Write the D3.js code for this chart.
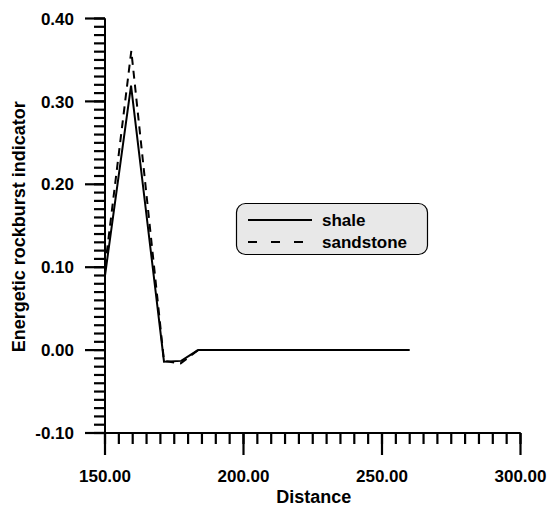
<!DOCTYPE html>
<html><head><meta charset="utf-8">
<script src="https://cdn.jsdelivr.net/npm/d3@7"></script>
<style>body{margin:0;background:#fff}svg{display:block}text{font-family:"Liberation Sans",Arial,sans-serif;font-weight:bold;fill:#000}</style>
</head><body>
<script>
const shaleX = [150, 159.4, 171.3, 177.5, 183.6, 260];
const shaleY = [0.09, 0.319, -0.014, -0.013, 0.0, 0.0];
const sandX = [150, 159.5, 171.3, 177.3, 183.6, 260];
const sandY = [0.10, 0.361, -0.013, -0.016, 0.0, 0.0];
const seriesNames = ["shale", "sandstone"];
const xTicks = [150, 200, 250, 300];
const yTicks = [-0.1, 0.0, 0.1, 0.2, 0.3, 0.4];
const xTitle = "Distance";
const yTitle = "Energetic rockburst indicator";

const W = 551, H = 509;
const svg = d3.select("body").append("svg").attr("width", W).attr("height", H);
const x = d3.scaleLinear().domain([150, 300]).range([105, 520.5]);
const y = d3.scaleLinear().domain([-0.1, 0.4]).range([433, 18.5]);
const fmt = d => d3.format(".2f")(d).replace("\u2212", "-");

const xMinor = d3.range(150, 300.001, 5);
const yMinor = d3.range(-0.1, 0.4001, 0.01);

const gx = svg.append("g").attr("transform", `translate(0,${y(-0.1)})`);
gx.call(d3.axisBottom(x).offset(0).tickValues(xMinor).tickSize(11).tickFormat("").tickSizeOuter(0));
const gx2 = svg.append("g").attr("transform", `translate(0,${y(-0.1)})`);
gx2.call(d3.axisBottom(x).offset(0).tickValues(xTicks).tickSize(22).tickFormat(fmt).tickSizeOuter(0));
gx2.selectAll("text").attr("font-size", 17).attr("dy", 0).attr("y", 49);

const gy = svg.append("g").attr("transform", `translate(${x(150)},0)`);
gy.call(d3.axisLeft(y).offset(0).tickValues(yMinor).tickSize(11).tickFormat("").tickSizeOuter(0));
const gy2 = svg.append("g").attr("transform", `translate(${x(150)},0)`);
gy2.call(d3.axisLeft(y).offset(0).tickValues(yTicks).tickSize(20).tickFormat(fmt).tickSizeOuter(0));
gy2.selectAll("text").attr("font-size", 17).attr("dy", "0.36em").attr("x", -31);

svg.selectAll(".domain").attr("stroke", "#000").attr("stroke-width", 2);
svg.selectAll(".tick line").attr("stroke", "#000").attr("stroke-width", 2.2);
svg.selectAll("g").attr("font-family", null);

svg.append("text").attr("x", (x(150) + x(300)) / 2 + 1).attr("y", 503)
  .attr("text-anchor", "middle").attr("font-size", 18).text(xTitle);
svg.append("text").attr("transform", `translate(25,${(y(-0.1) + y(0.4)) / 2 + 1}) rotate(-90)`)
  .attr("text-anchor", "middle").attr("font-size", 18).text(yTitle);

const line = d3.line().x(d => x(d[0])).y(d => y(d[1]));
svg.append("path").datum(shaleX.map((v, i) => [v, shaleY[i]]))
  .attr("d", line).attr("fill", "none").attr("stroke", "#000").attr("stroke-width", 2);
svg.append("path").datum(sandX.map((v, i) => [v, sandY[i]]))
  .attr("d", line).attr("fill", "none").attr("stroke", "#000").attr("stroke-width", 2)
  .attr("stroke-dasharray", "8,6");

const lg = svg.append("g");
lg.append("rect").attr("x", 236.5).attr("y", 203.5).attr("width", 191).attr("height", 51)
  .attr("rx", 9).attr("fill", "#e8e8e8").attr("stroke", "#000").attr("stroke-width", 1.2);
const ly = [220, 242];
seriesNames.forEach((n, i) => {
  lg.append("line").attr("x1", 248).attr("x2", 312).attr("y1", ly[i]).attr("y2", ly[i])
    .attr("stroke", "#000").attr("stroke-width", 2)
    .attr("stroke-dasharray", i === 1 ? "9,14" : null);
  lg.append("text").attr("x", 322).attr("y", ly[i] + 5.5).attr("font-size", 17).text(n);
});
</script>
</body></html>
